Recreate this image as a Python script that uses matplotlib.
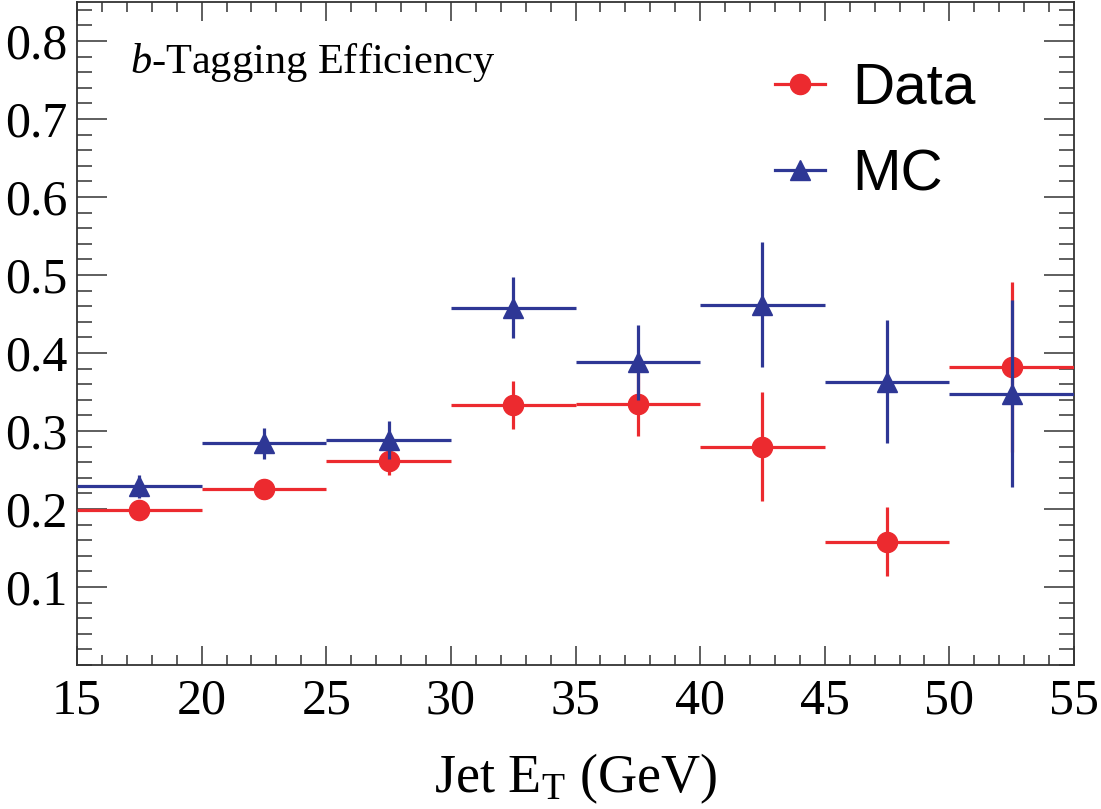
import matplotlib
matplotlib.use("Agg")
import matplotlib.pyplot as plt
from matplotlib.lines import Line2D
from matplotlib.ticker import MultipleLocator
import numpy as np

# ---- data ----
bin_centers = [17.5, 22.5, 27.5, 32.5, 37.5, 42.5, 47.5, 52.5]
bin_halfwidth = [2.5, 2.5, 2.5, 2.5, 2.5, 2.5, 2.5, 2.5]
data_eff = [0.199, 0.226, 0.262, 0.333, 0.334, 0.280, 0.158, 0.382]
data_err = [0.010, 0.008, 0.019, 0.031, 0.040, 0.070, 0.044, 0.109]
mc_eff = [0.229, 0.284, 0.288, 0.458, 0.388, 0.462, 0.363, 0.348]
mc_err = [0.015, 0.020, 0.0245, 0.039, 0.048, 0.080, 0.079, 0.120]
x_ticks = [15, 20, 25, 30, 35, 40, 45, 50, 55]
y_ticks = [0.1, 0.2, 0.3, 0.4, 0.5, 0.6, 0.7, 0.8]

red = "#ec2a2f"
blue = "#2e3795"

plt.rcParams['mathtext.fontset'] = 'custom'
plt.rcParams['mathtext.rm'] = 'Liberation Serif'
plt.rcParams['mathtext.it'] = 'Liberation Serif:italic'

fig = plt.figure(figsize=(11.01, 8.09), dpi=100)
ax = fig.add_axes([77/1101, 1-665/809, (1074-77)/1101, (665-2)/809])

ax.errorbar(bin_centers, data_eff, xerr=bin_halfwidth, yerr=data_err,
            fmt='o', color=red, ms=14.5, elinewidth=2.3, capsize=0, zorder=3)
ax.errorbar(bin_centers, mc_eff, xerr=bin_halfwidth, yerr=mc_err,
            fmt='^', color=blue, ms=14.5, elinewidth=2.3, capsize=0, zorder=4)

ax.set_xlim(15, 55)
ax.set_ylim(0, 0.85)
ax.set_xticks(x_ticks)
ax.set_yticks(y_ticks)
ax.set_xticklabels([str(v) for v in x_ticks])
ax.set_yticklabels([f"{v:.1f}" for v in y_ticks])
ax.xaxis.set_minor_locator(MultipleLocator(1))
ax.yaxis.set_minor_locator(MultipleLocator(0.02))

for lab in ax.get_xticklabels() + ax.get_yticklabels():
    lab.set_fontfamily('Liberation Serif')
    lab.set_fontsize(36)
    lab.set_color('black')

ax.tick_params(axis='x', which='major', direction='in', length=13.5, width=1.1,
               top=True, bottom=True, pad=9, colors='#333333', labelcolor='black')
ax.tick_params(axis='x', which='minor', direction='in', length=7, width=1.1,
               top=True, bottom=True, colors='#333333')
ax.tick_params(axis='y', which='major', direction='in', length=21.5, width=1.1,
               left=True, right=True, pad=7, colors='#333333', labelcolor='black')
ax.tick_params(axis='y', which='minor', direction='in', length=10.8, width=1.1,
               left=True, right=True, colors='#333333')
for s in ax.spines.values():
    s.set_linewidth(1.3)
    s.set_color('#333333')

ax.set_xlabel(r'Jet E$_\mathrm{T}$ (GeV)', fontfamily='Liberation Serif',
              fontsize=39, labelpad=20)

ax.text(130/1101, 1-62/809, r'$\it{b}$-Tagging Efficiency', transform=fig.transFigure,
        fontfamily='Liberation Serif', fontsize=30.5, ha='left', va='center')

handles = [Line2D([], [], color=red, marker='o', ms=14.5, lw=2.3),
           Line2D([], [], color=blue, marker='^', ms=14.5, lw=2.3)]
leg = ax.legend(handles, ['Data', 'MC'], loc='upper left',
                bbox_to_anchor=(775/1101, 1-62/809), bbox_transform=fig.transFigure,
                frameon=False, prop={'family': 'Liberation Sans', 'size': 42},
                handlelength=0.86, handletextpad=0.46, labelspacing=0.55,
                borderaxespad=0, borderpad=0)

fig.savefig('out.png', dpi=100)
